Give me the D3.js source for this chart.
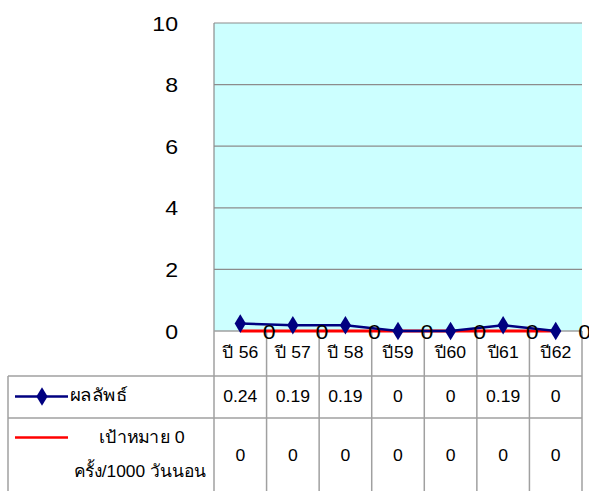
<!DOCTYPE html>
<html>
<head>
<meta charset="utf-8">
<script src="https://cdn.jsdelivr.net/npm/d3@7"></script>
<style>
  html, body { margin: 0; padding: 0; background: #fff; }
  svg { display: block; }
  text { font-family: "Liberation Sans", Arial, sans-serif; fill: #000; }
</style>
</head>
<body>
<svg id="chart" width="589" height="491"></svg>
<script>
// Fiscal years and series
const categories = ["ปี 56", "ปี 57", "ปี 58", "ปี59", "ปี60", "ปี61", "ปี62"];
const resultValues = [0.24, 0.19, 0.19, 0, 0, 0.19, 0];
const targetValues = [0, 0, 0, 0, 0, 0, 0];
const yTicks = [0, 2, 4, 6, 8, 10];
const resultName = "ผลลัพธ์";
const targetNameLines = ["เป้าหมาย 0", "ครั้ง/1000 วันนอน"];

const svg = d3.select("#chart");

const plot = { left: 214, right: 582, top: 23, bottom: 331 };
const tableLeft = 8;
const rowLines = [331, 376, 418, 500]; // category row, result row, target row

const x = d3.scaleBand().domain(categories).range([plot.left, plot.right]).paddingInner(0).paddingOuter(0);
const cx = c => x(c) + x.bandwidth() / 2;
const y = d3.scaleLinear().domain([0, 10]).range([plot.bottom, plot.top]);

const gridColor = "#8c8c8c";
const tableColor = "#a0a0a0";
const SX = 1.1; // slightly wide type

// Place a text with a horizontal stretch around its anchor point
function label(sel, px, py, size, anchor, sx) {
  return sel
    .attr("x", 0).attr("y", 0)
    .attr("transform", (d, i) => `translate(${typeof px === "function" ? px(d, i) : px},${typeof py === "function" ? py(d, i) : py}) scale(${sx || SX},1)`)
    .attr("font-size", size)
    .attr("text-anchor", anchor || "middle");
}

// Plot background
svg.append("rect")
  .attr("x", plot.left).attr("y", plot.top)
  .attr("width", plot.right - plot.left).attr("height", plot.bottom - plot.top)
  .attr("fill", "#ccffff");

// Horizontal gridlines
svg.append("g").selectAll("line").data(yTicks.filter(t => t > 0)).join("line")
  .attr("x1", plot.left).attr("x2", plot.right)
  .attr("y1", d => y(d)).attr("y2", d => y(d))
  .attr("stroke", gridColor).attr("stroke-width", 1.2);

// Left border of plot
svg.append("line")
  .attr("x1", plot.left).attr("x2", plot.left)
  .attr("y1", plot.top).attr("y2", plot.bottom)
  .attr("stroke", gridColor).attr("stroke-width", 1.2);

// Y axis labels
const yAxis = d3.axisLeft(y).tickValues(yTicks).tickSize(0).tickPadding(0).tickFormat(d3.format("d"));
const yg = svg.append("g").attr("transform", "translate(0,0)").call(yAxis);
yg.select(".domain").remove();
yg.selectAll(".tick").attr("transform", null);
label(yg.selectAll(".tick text"), 178, d => y(d) + 7.5, 21, "end")
  .attr("dy", null)
  .attr("font-family", "'Liberation Sans', Arial, sans-serif")
  .attr("fill", "#000");

// Data table grid
const tg = svg.append("g").attr("stroke", tableColor).attr("stroke-width", 1.5).attr("fill", "none");
tg.append("line").attr("x1", plot.left).attr("x2", plot.right).attr("y1", rowLines[0]).attr("y2", rowLines[0]);
tg.append("line").attr("x1", tableLeft).attr("x2", plot.right).attr("y1", rowLines[1]).attr("y2", rowLines[1]);
tg.append("line").attr("x1", tableLeft).attr("x2", plot.right).attr("y1", rowLines[2]).attr("y2", rowLines[2]);
const bounds = categories.map(c => x(c)).concat([plot.right]);
tg.selectAll("line.col").data(bounds).join("line").attr("class", "col")
  .attr("x1", d => d).attr("x2", d => d)
  .attr("y1", rowLines[0]).attr("y2", rowLines[3]);
tg.append("line").attr("x1", tableLeft).attr("x2", tableLeft).attr("y1", rowLines[1]).attr("y2", rowLines[3]);

// Category labels
label(svg.append("g").selectAll("text").data(categories).join("text"), d => cx(d), 358, 16, "middle")
  .text(d => d);

// Result row values
label(svg.append("g").selectAll("text").data(resultValues).join("text"), (d, i) => cx(categories[i]), 402, 16, "middle")
  .text(d => d);

// Target row values
label(svg.append("g").selectAll("text").data(targetValues).join("text"), (d, i) => cx(categories[i]), 461, 16, "middle")
  .text(d => d);

// Legend: result series
svg.append("line").attr("x1", 15).attr("x2", 68).attr("y1", 396.5).attr("y2", 396.5)
  .attr("stroke", "#000080").attr("stroke-width", 2.5);
svg.append("path").attr("d", d3.symbol(d3.symbolDiamond, 110)())
  .attr("transform", "translate(42,396.5) scale(1,0.95)").attr("fill", "#000080");
label(svg.append("text"), 70, 401, 17, "start", 1.1).text(resultName);

// Legend: target series
svg.append("line").attr("x1", 15).attr("x2", 68).attr("y1", 437.5).attr("y2", 437.5)
  .attr("stroke", "#ff0000").attr("stroke-width", 2.5);
label(svg.append("text"), 142, 443, 17, "middle", 1.05).text(targetNameLines[0]);
label(svg.append("text"), 140, 477, 17, "middle", 1.02).text(targetNameLines[1]);

// Target line
const line = d3.line().x((d, i) => cx(categories[i])).y(d => y(d));
svg.append("path").datum(targetValues).attr("d", line)
  .attr("fill", "none").attr("stroke", "#ff0000").attr("stroke-width", 3);

// Result line with diamond markers
svg.append("path").datum(resultValues).attr("d", line)
  .attr("fill", "none").attr("stroke", "#000080").attr("stroke-width", 2.5);
svg.append("g").selectAll("path").data(resultValues).join("path")
  .attr("d", d3.symbol(d3.symbolDiamond, 110)())
  .attr("transform", (d, i) => `translate(${cx(categories[i])},${y(d)}) scale(1,0.95)`)
  .attr("fill", "#000080");

// Target value labels
label(svg.append("g").selectAll("text").data(targetValues).join("text"),
      (d, i) => cx(categories[i]) + 29, d => y(d) + 8, 21, "middle")
  .text(d => d);
</script>
</body>
</html>
